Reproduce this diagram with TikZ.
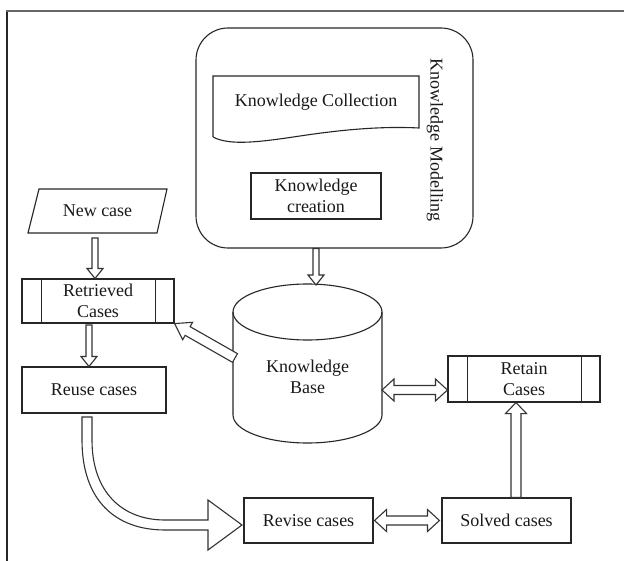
\documentclass[tikz,border=0pt]{standalone}
\usepackage{fontspec}
\setmainfont{Liberation Serif}
\usetikzlibrary{calc}
\tikzset{
  ln/.style={draw=black!85, line width=1.1pt},
  box/.style={ln, rectangle, inner sep=0pt, align=center, font=\fontsize{18}{21}\selectfont, text=black!90},
  lbl/.style={inner sep=0pt, align=center, font=\fontsize{18}{21}\selectfont, text=black!90},
  hol/.style={draw=black!80, line width=1.1pt, fill=white, line join=miter},
}
% single hollow block arrow: from, to, shaft half width, head half width, head length
\newcommand\harrow[5]{%
  \path let \p1=(#1), \p2=(#2) in \pgfextra{%
    \pgfmathsetmacro\hA{atan2(\y2-\y1,\x2-\x1)}%
    \pgfmathsetmacro\hL{veclen(\x2-\x1,\y2-\y1)}%
    \xdef\hAng{\hA}\xdef\hLen{\hL}};
  \draw[hol, shift={(#1)}, rotate=\hAng]
    (0pt,#3pt) -- ({\hLen pt-#5pt},#3pt) -- ({\hLen pt-#5pt},#4pt) -- (\hLen pt,0pt)
    -- ({\hLen pt-#5pt},-#4pt) -- ({\hLen pt-#5pt},-#3pt) -- (0pt,-#3pt) -- cycle;
}
% double hollow block arrow
\newcommand\hdarrow[5]{%
  \path let \p1=(#1), \p2=(#2) in \pgfextra{%
    \pgfmathsetmacro\hA{atan2(\y2-\y1,\x2-\x1)}%
    \pgfmathsetmacro\hL{veclen(\x2-\x1,\y2-\y1)}%
    \xdef\hAng{\hA}\xdef\hLen{\hL}};
  \draw[hol, shift={(#1)}, rotate=\hAng]
    (0pt,0pt) -- (#5pt,#4pt) -- (#5pt,#3pt) -- ({\hLen pt-#5pt},#3pt) -- ({\hLen pt-#5pt},#4pt) -- (\hLen pt,0pt)
    -- ({\hLen pt-#5pt},-#4pt) -- ({\hLen pt-#5pt},-#3pt) -- (#5pt,-#3pt) -- (#5pt,-#4pt) -- cycle;
}
\begin{document}
\begin{tikzpicture}[x=1pt,y=-1pt]
\useasboundingbox (0,0) rectangle (624,561);
% frame
\draw[draw=black!85, line width=1.4pt] (7,561) -- (7,11);
\draw[draw=black!60, line width=2pt] (6.3,11) -- (624,11);

% Knowledge modelling group
\node[box, rounded corners=32pt, minimum width=277pt, minimum height=220pt] (km) at (334.5,138) {};
\node[lbl, rotate=-90] (kmlabel) at (435,140) {Knowledge Modelling};
\draw[ln] (213,137) -- (213,76) -- (419,76) -- (419,128)
  .. controls (380,126) and (340,130) .. (300,136)
  .. controls (260,142) and (230,146) .. (213,137);
\node[lbl] (kcoll) at (316,102) {Knowledge Collection};
\node[box, minimum width=130pt, minimum height=46pt] (kcre) at (316,196) {Knowledge\\creation};

% Knowledge base cylinder
\draw[ln] (233,312) -- (233,415) arc[start angle=180, end angle=0, x radius=74.5, y radius=28] -- (382,312);
\draw[ln] (307.5,312) ellipse [x radius=74.5, y radius=28];
\node[lbl] (kb) at (307.5,377) {Knowledge\\Base};
\coordinate (kbtop) at (316,285);
\coordinate (kbleft) at (235,358);
\coordinate (kbright) at (382,390);

% New case
\draw[ln] (39,189) -- (167,189) -- (157,233) -- (28,233) -- cycle;
\node[lbl, minimum width=128pt, minimum height=44pt] (newcase) at (97.5,211) {New case};

% Retrieved cases
\node[box, minimum width=152pt, minimum height=44pt] (retr) at (98,301) {Retrieved\\Cases};
\draw[ln] ([xshift=20pt]retr.north west) -- ([xshift=20pt]retr.south west);
\draw[ln] ([xshift=-19pt]retr.north east) -- ([xshift=-19pt]retr.south east);

% Reuse
\node[box, minimum width=144pt, minimum height=46pt] (reuse) at (94,390) {Reuse cases};

% Revise / Solved
\node[box, minimum width=129pt, minimum height=45pt] (revise) at (308.5,520.5) {Revise cases};
\node[box, minimum width=129pt, minimum height=45pt] (solved) at (506.5,520.5) {Solved cases};

% Retain
\node[box, minimum width=152pt, minimum height=46pt] (retain) at (524,379) {Retain\\Cases};
\draw[ln] ([xshift=20pt]retain.north west) -- ([xshift=20pt]retain.south west);
\draw[ln] ([xshift=-19pt]retain.north east) -- ([xshift=-19pt]retain.south east);

% connectors
\coordinate (a1s) at (kcre.center |- km.south);
\harrow{a1s}{kbtop}{3}{8}{10}
\coordinate (a2s) at (95,238);
\coordinate (a2e) at (95,278.5);
\harrow{a2s}{a2e}{3}{8}{10}
\coordinate (a3s) at (89,325);
\coordinate (a3e) at (89,366.5);
\harrow{a3s}{a3e}{3}{8}{10}
\harrow{kbleft}{retr.south east}{5}{10}{15}
\coordinate (retin) at ([yshift=-11pt]retain.west);
\hdarrow{kbright}{retin}{4.5}{11}{12}
\coordinate (revout) at ([xshift=1pt]revise.east);
\coordinate (solin) at ([xshift=-2pt]solved.west);
\hdarrow{revout}{solin}{4.5}{11}{12}
\coordinate (solout) at ([xshift=9.5pt]solved.north);
\coordinate (retbot) at (solout |- retain.south);
\harrow{solout}{retbot}{5}{10.5}{11}

% curved block arrow from Reuse to Revise
\draw[hol] (82,417) -- (82,440) .. controls (82,500) and (115,530) .. (165,530) -- (208,530)
  -- (208,550) -- (242,525) -- (208,500) -- (208,520) -- (165,520)
  .. controls (122,520) and (92,492) .. (92,440) -- (92,417) -- cycle;
\end{tikzpicture}
\end{document}
